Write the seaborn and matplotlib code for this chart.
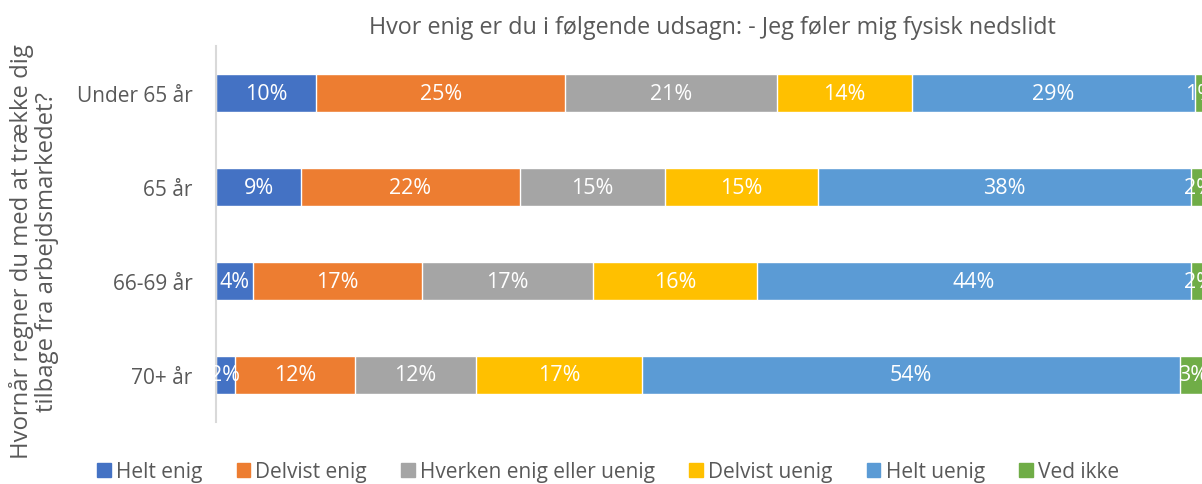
import numpy as np
import matplotlib as mpl
import matplotlib.pyplot as plt
from matplotlib.patches import Patch
import seaborn as sns

'''Stacked horizontal bars: fysisk nedslidt vs. planned retirement age'''

groups = ['Under 65 år', '65 år', '66-69 år', '70+ år']
answers = ['Helt enig', 'Delvist enig', 'Hverken enig eller uenig',
           'Delvist uenig', 'Helt uenig', 'Ved ikke']
helt_enig = [10.1, 8.6, 3.7, 1.9]
delvist_enig = [25.2, 22.1, 17.1, 12.1]
hverken = [21.4, 14.7, 17.3, 12.3]
delvist_uenig = [13.6, 15.4, 16.5, 16.7]
helt_uenig = [28.6, 37.7, 43.9, 54.4]
ved_ikke = [1.1, 1.5, 1.5, 2.6]

colors = ['#4472C4', '#ED7D31', '#A5A5A5', '#FFC000', '#5B9BD5', '#70AD47']

sns.set_style('white')
plt.rcParams['font.family'] = ['Open Sans', 'DejaVu Sans']
mpl.rcParams.update({'text.color': '#595959', 'axes.labelcolor': '#595959',
                     'ytick.color': '#595959'})

fig = plt.figure(figsize=(12.02, 4.85), dpi=100)
ax = fig.add_axes([216/1202, 62/485, 990/1202, 376/485])

series = [helt_enig, delvist_enig, hverken, delvist_uenig, helt_uenig, ved_ikke]
vals = np.array(series)
cum = np.cumsum(vals, axis=0)

# draw cumulative totals from the back so each segment shows
for i in range(len(series) - 1, -1, -1):
    sns.barplot(x=cum[i], y=groups, orient='h', color=colors[i],
                width=0.4, saturation=1, ax=ax)

for i in range(len(series)):
    starts = cum[i] - vals[i]
    for j in range(len(groups)):
        ax.text(starts[j] + vals[i][j] / 2, j, '%d%%' % round(vals[i][j]),
                ha='center', va='center', color='white', fontsize=15.5)

ax.set_xlim(0, 100)
ax.set_ylim(3.5, -0.5)
ax.set_xticks([])
ax.set_xlabel('')
ax.set_ylabel('')
for s in ['top', 'right', 'bottom']:
    ax.spines[s].set_visible(False)
ax.spines['left'].set_color('#D9D9D9')
ax.spines['left'].set_linewidth(1.5)
ax.tick_params(axis='y', length=0, pad=17, labelsize=15)

fig.text(712/1202, 1 - 28/485, 'Hvor enig er du i følgende udsagn: - Jeg føler mig fysisk nedslidt',
         ha='center', va='center', fontsize=16.8)
fig.text(34/1202, 1 - 252/485,
         'Hvornår regner du med at trække dig\ntilbage fra arbejdsmarkedet?',
         ha='center', va='center', rotation=90, fontsize=17.2, linespacing=1.1)

handles = [Patch(color=c) for c in colors]
fig.legend(handles, answers, loc='center', bbox_to_anchor=(608/1202, 1 - 473/485),
           ncol=6, frameon=False, fontsize=15, handlelength=0.65, handleheight=0.65,
           handletextpad=0.25, columnspacing=1.65)

plt.savefig('out.png', dpi=100)
